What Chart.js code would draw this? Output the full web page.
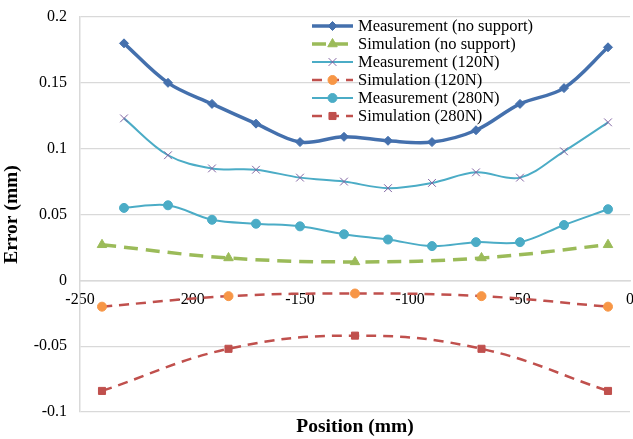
<!DOCTYPE html>
<html><head><meta charset="utf-8">
<script src="https://cdn.jsdelivr.net/npm/chart.js@4/dist/chart.umd.min.js"></script>
<style>html,body{margin:0;padding:0;background:#fff}canvas{display:block}</style>
</head><body>
<canvas id="c" width="633" height="439"></canvas>
<script>
const measPositions = [-230,-210,-190,-170,-150,-130,-110,-90,-70,-50,-30,-10];
const simPositions = [-240,-182.5,-125,-67.5,-10];
const measNoSupport = [0.180,0.150,0.134,0.119,0.105,0.109,0.106,0.105,0.114,0.134,0.146,0.177];
const simNoSupport = [0.027,0.017,0.014,0.017,0.027];
const meas120 = [0.123,0.095,0.085,0.084,0.078,0.075,0.070,0.074,0.082,0.078,0.098,0.120];
const sim120 = [-0.020,-0.012,-0.010,-0.012,-0.020];
const meas280 = [0.055,0.057,0.046,0.043,0.041,0.035,0.031,0.026,0.029,0.029,0.042,0.054];
const sim280 = [-0.084,-0.052,-0.042,-0.052,-0.084];
const seriesNames = ['Measurement (no support)','Simulation (no support)','Measurement (120N)','Simulation (120N)','Measurement (280N)','Simulation (280N)'];
const yTicks = [-0.1,-0.05,0,0.05,0.1,0.15,0.2];
const xTicks = [-250,-200,-150,-100,-50,0];

const pts = (xs, ys) => xs.map((x,i)=>({x, y: ys[i]}));
const SERIF = "'Liberation Serif','Times New Roman',serif";

const datasets = [
  {label: seriesNames[0], data: pts(measPositions, measNoSupport), borderColor:'#4470AD', backgroundColor:'#4470AD', borderWidth:3.5, pointStyle:'rectRot', pointRadius:4.5, pointBorderWidth:1, tension:0.35},
  {label: seriesNames[1], data: pts(simPositions, simNoSupport), borderColor:'#9BBB59', backgroundColor:'#9BBB59', borderWidth:3.5, borderDash:[14,8], pointStyle:'triangle', pointRadius:5.5, pointBorderWidth:1, tension:0.4},
  {label: seriesNames[2], data: pts(measPositions, meas120), borderColor:'#4BACC6', backgroundColor:'#8064A2', pointBorderColor:'#8064A2', borderWidth:2, pointStyle:'crossRot', pointRadius:5.5, pointBorderWidth:1, tension:0.35},
  {label: seriesNames[3], data: pts(simPositions, sim120), borderColor:'#C0504D', backgroundColor:'#F79646', pointBorderColor:'#F79646', borderWidth:2.5, borderDash:[10,7], pointStyle:'circle', pointRadius:4.5, pointBorderWidth:1, tension:0.4},
  {label: seriesNames[4], data: pts(measPositions, meas280), borderColor:'#4BACC6', backgroundColor:'#4BACC6', borderWidth:2, pointStyle:'circle', pointRadius:4.5, pointBorderWidth:1, tension:0.35},
  {label: seriesNames[5], data: pts(simPositions, sim280), borderColor:'#C0504D', backgroundColor:'#C0504D', borderWidth:2.5, borderDash:[10,7], pointStyle:'rect', pointRadius:5, pointBorderWidth:1, tension:0.4}
];

const legendPlugin = {
  id:'insideLegend',
  afterDraw(chart){
    const ctx = chart.ctx;
    const x0 = 312, y0 = 26, dy = 18, len = 41;
    chart.data.datasets.forEach((ds,i)=>{
      const y = y0 + i*dy;
      ctx.save();
      ctx.strokeStyle = ds.borderColor;
      ctx.lineWidth = ds.borderWidth;
      ctx.setLineDash(ds.borderDash || []);
      ctx.beginPath(); ctx.moveTo(x0,y); ctx.lineTo(x0+len,y); ctx.stroke();
      ctx.setLineDash([]);
      ctx.fillStyle = ds.backgroundColor;
      ctx.strokeStyle = ds.pointBorderColor || ds.backgroundColor;
      ctx.lineWidth = ds.pointBorderWidth;
      Chart.helpers.drawPoint(ctx, {pointStyle: ds.pointStyle, radius: ds.pointRadius, rotation:0, borderWidth: ds.pointBorderWidth}, x0+len/2, y);
      ctx.fillStyle = '#000';
      ctx.font = '16.5px ' + SERIF;
      ctx.textBaseline = 'middle';
      ctx.fillText(ds.label, x0+len+5, y+1);
      ctx.restore();
    });
  }
};
const xTitlePlugin = {
  id:'xTitle',
  afterDraw(chart){
    const ctx = chart.ctx, a = chart.chartArea;
    ctx.save();
    ctx.fillStyle = '#000';
    ctx.font = 'bold 19.5px ' + SERIF;
    ctx.textAlign = 'center'; ctx.textBaseline = 'middle';
    ctx.fillText('Position (mm)', (a.left+a.right)/2, 427);
    ctx.restore();
  }
};

new Chart(document.getElementById('c'), {
  type:'line',
  data:{datasets},
  options:{
    responsive:false, animation:false,
    layout:{autoPadding:false, padding:{top:17, bottom:27, left:0, right:3}},
    plugins:{legend:{display:false}, tooltip:{enabled:false}},
    scales:{
      x:{type:'linear', min:-250, max:0, position:{y:0},
        afterBuildTicks(s){ s.ticks = xTicks.map(v=>({value:v})); },
        afterFit(s){ s.paddingLeft = 0; s.paddingRight = 0; s.paddingTop = 0; s.paddingBottom = 0; },
        grid:{display:false, drawTicks:false},
        border:{display:true, color:'#d9d9d9', width:1.5},
        ticks:{color:'#000', font:{family:SERIF, size:16}, padding:10, maxRotation:0}
      },
      y:{min:-0.1, max:0.2,
        afterBuildTicks(s){ s.ticks = yTicks.map(v=>({value:v})); },
        afterFit(s){ s.width = 80; s.paddingTop = 0; s.paddingBottom = 0; s.paddingLeft = 0; s.paddingRight = 0; },
        grid:{color:'#d9d9d9', lineWidth:1.2, drawTicks:false},
        border:{display:true, color:'#d9d9d9', width:1.5},
        ticks:{color:'#000', font:{family:SERIF, size:16}, padding:13, callback:v=>String(Math.round(v*100)/100)},
        title:{display:true, text:'Error (mm)', color:'#000', font:{family:SERIF, size:19.5, weight:'bold'}, padding:{top:0,bottom:6}}
      }
    }
  },
  plugins:[legendPlugin, xTitlePlugin]
});
</script>
</body></html>
